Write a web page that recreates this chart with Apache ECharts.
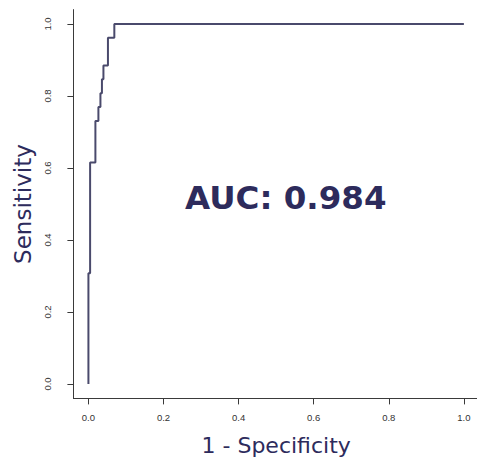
<!DOCTYPE html>
<html>
<head>
<meta charset="utf-8">
<script src="https://cdn.jsdelivr.net/npm/echarts@6/dist/echarts.min.js"></script>
<style>
  html, body { margin: 0; padding: 0; background: #ffffff; }
  #chart { width: 477px; height: 458px; }
</style>
</head>
<body>
<div id="chart"></div>
<script>
// ROC curve points: false positive rate (1 - specificity) and sensitivity
const fpr = [0, 0, 0.0045, 0.0186, 0.0266, 0.032, 0.036, 0.040, 0.052, 0.069, 1];
const sensitivity = [0, 0.3077, 0.6154, 0.7308, 0.7692, 0.8077, 0.8462, 0.8846, 0.9615, 1, 1];
const tickValues = [0, 0.2, 0.4, 0.6, 0.8, 1.0];
const aucText = 'AUC: 0.984';

const navy = '#2d2b5c';
const axisColor = '#3a3a3a';

const chart = echarts.init(document.getElementById('chart'), null, { renderer: 'svg' });

const commonAxis = {
  type: 'value',
  min: -0.04,
  max: 1.04,
  splitLine: { show: false },
  axisLine: { show: true, onZero: false, lineStyle: { color: axisColor, width: 1 } },
  axisTick: { show: true, length: 6, customValues: tickValues, lineStyle: { color: axisColor, width: 1 } },
  axisLabel: {
    customValues: tickValues,
    formatter: v => v.toFixed(1),
    color: '#333333',
    fontFamily: 'Liberation Sans',
    fontSize: 9.5
  },
  nameLocation: 'middle',
  nameTextStyle: { color: navy, fontFamily: 'DejaVu Sans', fontSize: 22, lineHeight: 22 }
};

chart.setOption({
  animation: false,
  grid: {
    left: 73.4, top: 9.6, width: 405.5, height: 388.8,
    containLabel: false,
    outerBoundsMode: 'none'
  },
  xAxis: Object.assign({}, commonAxis, {
    name: '1 - Specificity',
    nameGap: 36,
    axisLabel: Object.assign({}, commonAxis.axisLabel, { margin: 14 })
  }),
  yAxis: Object.assign({}, commonAxis, {
    name: 'Sensitivity',
    nameGap: 36,
    nameTextStyle: Object.assign({}, commonAxis.nameTextStyle, { fontSize: 23, lineHeight: 23 }),
    axisLabel: Object.assign({}, commonAxis.axisLabel, { margin: 21, rotate: 90 })
  }),
  graphic: [{
    type: 'text',
    left: 185,
    top: 181,
    style: {
      text: aucText,
      fill: navy,
      font: 'bold 32.5px "DejaVu Sans"'
    }
  }],
  series: [{
    type: 'line',
    step: 'end',
    symbol: 'none',
    data: fpr.map((x, i) => [x, sensitivity[i]]),
    lineStyle: { color: '#4a4a6c', width: 2 }
  }]
});
</script>
</body>
</html>
